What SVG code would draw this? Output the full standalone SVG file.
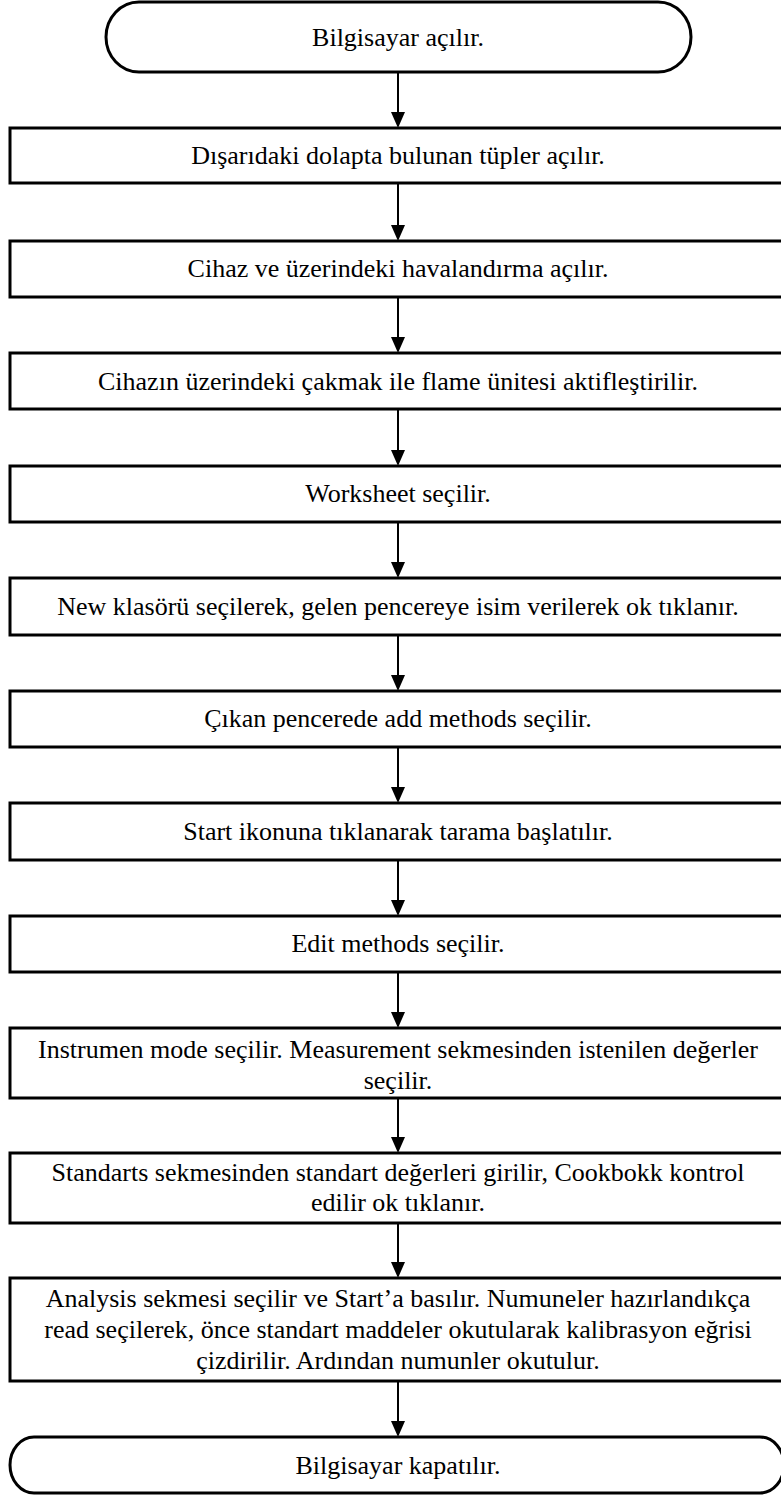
<svg xmlns="http://www.w3.org/2000/svg" width="781" height="1495" viewBox="0 0 781 1495">
<defs>
<marker id="ah" markerWidth="14" markerHeight="16" refX="7" refY="16" orient="auto-start-reverse" markerUnits="userSpaceOnUse" viewBox="0 0 14 16">
<path d="M0,0 L14,0 L7,16 Z" fill="#000" transform="rotate(0)"/>
</marker>
<style>
.box{fill:#fff;stroke:#000;stroke-width:3}
.t{font-family:"Liberation Serif","Times New Roman",serif;font-size:26px;fill:#000;text-anchor:middle}
.c{stroke:#000;stroke-width:2;fill:none}
</style>
</defs>
<rect width="781" height="1495" fill="#fff"/>
<g id="connectors">
<line class="c" x1="398" y1="72" x2="398" y2="112"/><path d="M391,112 L405,112 L398,128 Z"/>
<line class="c" x1="398" y1="183" x2="398" y2="225"/><path d="M391,225 L405,225 L398,241 Z"/>
<line class="c" x1="398" y1="297" x2="398" y2="337"/><path d="M391,337 L405,337 L398,353 Z"/>
<line class="c" x1="398" y1="409" x2="398" y2="450"/><path d="M391,450 L405,450 L398,466 Z"/>
<line class="c" x1="398" y1="522" x2="398" y2="562"/><path d="M391,562 L405,562 L398,578 Z"/>
<line class="c" x1="398" y1="635" x2="398" y2="675"/><path d="M391,675 L405,675 L398,691 Z"/>
<line class="c" x1="398" y1="747" x2="398" y2="787"/><path d="M391,787 L405,787 L398,803 Z"/>
<line class="c" x1="398" y1="860" x2="398" y2="900"/><path d="M391,900 L405,900 L398,916 Z"/>
<line class="c" x1="398" y1="972" x2="398" y2="1012"/><path d="M391,1012 L405,1012 L398,1028 Z"/>
<line class="c" x1="398" y1="1098" x2="398" y2="1137"/><path d="M391,1137 L405,1137 L398,1153 Z"/>
<line class="c" x1="398" y1="1223" x2="398" y2="1262"/><path d="M391,1262 L405,1262 L398,1278 Z"/>
<line class="c" x1="398" y1="1381" x2="398" y2="1421"/><path d="M391,1421 L405,1421 L398,1437 Z"/>
</g>
<g id="n1"><rect class="box" x="106" y="2" width="585" height="70" rx="33" ry="35"/><text class="t" x="398" y="46">Bilgisayar açılır.</text></g>
<g id="n2"><rect class="box" x="10" y="128" width="776" height="55"/><text class="t" x="398" y="164">Dışarıdaki dolapta bulunan tüpler açılır.</text></g>
<g id="n3"><rect class="box" x="10" y="241" width="776" height="56"/><text class="t" x="398" y="277">Cihaz ve üzerindeki havalandırma açılır.</text></g>
<g id="n4"><rect class="box" x="10" y="353" width="776" height="56"/><text class="t" x="398" y="390">Cihazın üzerindeki çakmak ile flame ünitesi aktifleştirilir.</text></g>
<g id="n5"><rect class="box" x="10" y="466" width="776" height="56"/><text class="t" x="398" y="502">Worksheet seçilir.</text></g>
<g id="n6"><rect class="box" x="10" y="578" width="776" height="57"/><text class="t" x="398" y="615">New klasörü seçilerek, gelen pencereye isim verilerek ok tıklanır.</text></g>
<g id="n7"><rect class="box" x="10" y="691" width="776" height="56"/><text class="t" x="398" y="727">Çıkan pencerede add methods seçilir.</text></g>
<g id="n8"><rect class="box" x="10" y="803" width="776" height="57"/><text class="t" x="398" y="840">Start ikonuna tıklanarak tarama başlatılır.</text></g>
<g id="n9"><rect class="box" x="10" y="916" width="776" height="56"/><text class="t" x="398" y="952">Edit methods seçilir.</text></g>
<g id="n10"><rect class="box" x="10" y="1028" width="776" height="70"/><text class="t" x="398" y="1058">Instrumen mode seçilir. Measurement sekmesinden istenilen değerler</text><text class="t" x="398" y="1089">seçilir.</text></g>
<g id="n11"><rect class="box" x="10" y="1153" width="776" height="70"/><text class="t" x="398" y="1181">Standarts sekmesinden standart değerleri girilir, Cookbokk kontrol</text><text class="t" x="398" y="1211">edilir ok tıklanır.</text></g>
<g id="n12"><rect class="box" x="10" y="1278" width="776" height="103"/><text class="t" x="398" y="1307">Analysis sekmesi seçilir ve Start’a basılır. Numuneler hazırlandıkça</text><text class="t" x="398" y="1338">read seçilerek, önce standart maddeler okutularak kalibrasyon eğrisi</text><text class="t" x="398" y="1369">çizdirilir. Ardından numunler okutulur.</text></g>
<g id="n13"><rect class="box" x="10" y="1437" width="774" height="56" rx="24" ry="28"/><text class="t" x="398" y="1474">Bilgisayar kapatılır.</text></g>
</svg>
